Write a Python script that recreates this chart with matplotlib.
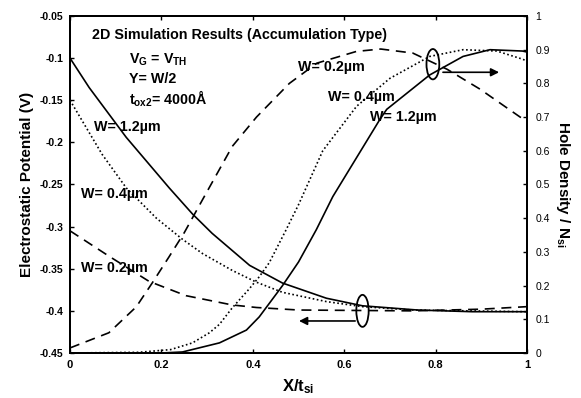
import numpy as np
import matplotlib
matplotlib.use("Agg")
import matplotlib.pyplot as plt
from matplotlib.patches import Ellipse

plt.rcParams['font.family'] = ['Liberation Sans', 'DejaVu Sans']
plt.rcParams['mathtext.default'] = 'regular'

# electrostatic potential (left axis)
x_pot_12 = [0, 0.042, 0.123, 0.217, 0.268, 0.311, 0.393, 0.465, 0.561, 0.64, 0.76, 0.88, 1.0]
pot_12 = [-0.100, -0.135, -0.194, -0.254, -0.285, -0.308, -0.346, -0.367, -0.385, -0.394, -0.399, -0.401, -0.401]

x_pot_04 = [0, 0.07, 0.123, 0.189, 0.246, 0.29, 0.355, 0.408, 0.465, 0.561, 0.64, 0.75, 1.0]
pot_04 = [-0.150, -0.214, -0.254, -0.290, -0.315, -0.332, -0.352, -0.366, -0.378, -0.389, -0.395, -0.399, -0.401]

x_pot_02 = [0, 0.085, 0.173, 0.254, 0.355, 0.408, 0.5, 0.75, 0.9, 1.0]
pot_02 = [-0.305, -0.335, -0.365, -0.382, -0.393, -0.396, -0.399, -0.400, -0.398, -0.395]

# hole density / N_si (right axis)
x_hole_02 = [0, 0.085, 0.145, 0.18, 0.217, 0.25, 0.29, 0.355, 0.408, 0.48, 0.54, 0.627, 0.68, 0.75, 0.825, 0.897, 0.985, 1.0]
hole_02 = [0.015, 0.06, 0.137, 0.208, 0.286, 0.357, 0.455, 0.613, 0.70, 0.80, 0.86, 0.895, 0.902, 0.89, 0.842, 0.783, 0.70, 0.69]

x_hole_04 = [0, 0.15, 0.22, 0.268, 0.305, 0.327, 0.355, 0.392, 0.414, 0.436, 0.473, 0.5, 0.553, 0.627, 0.70, 0.787, 0.86, 0.934, 0.99, 1.0]
hole_04 = [0.0, 0.002, 0.01, 0.03, 0.06, 0.085, 0.134, 0.19, 0.226, 0.268, 0.366, 0.44, 0.60, 0.732, 0.815, 0.88, 0.90, 0.896, 0.872, 0.866]

x_hole_12 = [0, 0.2, 0.246, 0.327, 0.386, 0.414, 0.465, 0.5, 0.539, 0.575, 0.678, 0.693, 0.787, 0.86, 0.919, 0.99, 1.0]
hole_12 = [0, 0.0, 0.003, 0.03, 0.068, 0.107, 0.20, 0.27, 0.366, 0.464, 0.693, 0.723, 0.825, 0.88, 0.90, 0.896, 0.893]

dash = (0, (6, 4))
dot = (0, (1, 1.5))

fig = plt.figure(figsize=(5.81, 3.98), dpi=100)
ax = fig.add_axes([0.1205, 0.1131, 0.7866, 0.8467])
ax2 = ax.twinx()

ax.plot(x_pot_12, pot_12, color='black', lw=1.2)
ax.plot(x_pot_04, pot_04, color='black', lw=1.2, ls=dot)
ax.plot(x_pot_02, pot_02, color='black', lw=1.2, ls=dash)

ax2.plot(x_hole_12, hole_12, color='black', lw=1.2)
ax2.plot(x_hole_04, hole_04, color='black', lw=1.2, ls=dot)
ax2.plot(x_hole_02, hole_02, color='black', lw=1.2, ls=dash)

ax.set_xlim(0, 1)
ax.set_ylim(-0.45, -0.05)
ax2.set_ylim(0, 1)

ax.set_xticks([0, 0.2, 0.4, 0.6, 0.8, 1])
ax.set_xticklabels(['0', '0.2', '0.4', '0.6', '0.8', '1'])
ax.set_yticks([-0.45, -0.4, -0.35, -0.3, -0.25, -0.2, -0.15, -0.1, -0.05])
ax.set_yticklabels(['-0.45', '-0.4', '-0.35', '-0.3', '-0.25', '-0.2', '-0.15', '-0.1', '-0.05'])
ax2.set_yticks(np.arange(0, 11) / 10)
ax2.set_yticklabels(['0', '0.1', '0.2', '0.3', '0.4', '0.5', '0.6', '0.7', '0.8', '0.9', '1'])

ax.tick_params(axis='x', direction='in', length=3, width=1, pad=5, labelsize=8, top=True)
ax.tick_params(axis='y', direction='in', length=3, width=1, pad=5, labelsize=7.5)
ax2.tick_params(axis='y', direction='in', length=3, width=1, pad=6, labelsize=7.5)
for lab in ax.get_xticklabels() + ax.get_yticklabels():
    lab.set_fontweight('bold')

for a in (ax, ax2):
    for s in a.spines.values():
        s.set_linewidth(1.4)

ax.set_xlabel('X/t$_{si}$', fontsize=12, fontweight='bold', labelpad=5)
ax.set_ylabel('Electrostatic Potential (V)', fontsize=11, fontweight='bold', labelpad=4)
ax2.set_ylabel('Hole Density / N$_{si}$', fontsize=11, fontweight='bold', rotation=270, labelpad=16)

tk = dict(fontsize=10.3, fontweight='bold', transform=ax.transAxes, va='center', ha='left')
ax.text(0.048, 0.944, '2D Simulation Results (Accumulation Type)', **tk)
ax.text(0.129, 0.87, 'V$_{G}$ = V$_{TH}$', **tk)
ax.text(0.129, 0.813, 'Y= W/2', **tk)
ax.text(0.129, 0.754, 't$_{ox2}$= 4000Å', **tk)
ax.text(0.053, 0.671, 'W= 1.2µm', **tk)
ax.text(0.024, 0.472, 'W= 0.4µm', **tk)
ax.text(0.024, 0.252, 'W= 0.2µm', **tk)
ax.text(0.498, 0.849, 'W= 0.2µm', **tk)
ax.text(0.564, 0.760, 'W= 0.4µm', **tk)
ax.text(0.656, 0.700, 'W= 1.2µm', **tk)

# markers for which curves belong to which axis
ax2.add_patch(Ellipse((0.794, 0.857), 0.028, 0.09, fill=False, lw=1.3, color='black'))
ax2.annotate('', xy=(0.945, 0.833), xytext=(0.81, 0.833),
             arrowprops=dict(arrowstyle='-|>', color='black', lw=1.2, mutation_scale=12))
ax.add_patch(Ellipse((0.64, -0.40), 0.027, 0.038, fill=False, lw=1.3, color='black'))
ax.annotate('', xy=(0.495, -0.412), xytext=(0.63, -0.412),
            arrowprops=dict(arrowstyle='-|>', color='black', lw=1.2, mutation_scale=12))

fig.savefig('out.png', dpi=100)
